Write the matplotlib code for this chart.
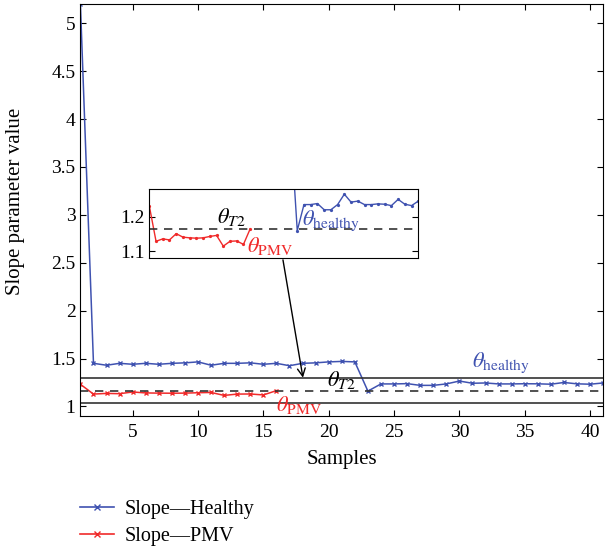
import numpy as np
import matplotlib
matplotlib.use('Agg')
import matplotlib.pyplot as plt
from matplotlib.lines import Line2D

plt.rcParams['font.family'] = 'Liberation Serif'
plt.rcParams['mathtext.fontset'] = 'stix'

# data
healthy_x = list(range(1, 42))
healthy_y = [5.2,
             1.45, 1.43, 1.45, 1.44, 1.45, 1.44, 1.45, 1.455, 1.465, 1.43,
             1.45, 1.45, 1.455, 1.44, 1.45, 1.425, 1.45,
             1.455, 1.465, 1.47, 1.465,
             1.16,
             1.235, 1.235, 1.238, 1.22, 1.22, 1.235, 1.265, 1.242, 1.245,
             1.235, 1.235, 1.237, 1.236, 1.232, 1.25, 1.236, 1.232, 1.245]
pmv_x = list(range(1, 17))
pmv_y = [1.231, 1.129, 1.136, 1.133, 1.151, 1.141, 1.139, 1.138,
         1.139, 1.143, 1.146, 1.115, 1.129, 1.130, 1.120, 1.165]
theta_healthy = 1.30
theta_t2 = 1.165
theta_pmv = 1.035

blue = '#3f52b0'
red = '#f02a2a'

fig = plt.figure(figsize=(6.05, 5.5), dpi=100)
ax = fig.add_axes([0.1329, 0.2436, 0.864, 0.749])

ax.plot(healthy_x, healthy_y, '-x', color=blue, lw=1.1, ms=3.5, mew=1.0)
ax.plot(pmv_x, pmv_y, '-x', color=red, lw=1.1, ms=3.5, mew=1.0)
ax.axhline(theta_healthy, color='#333333', lw=1.2)
ax.axhline(theta_pmv, color='#333333', lw=1.2)
ax.axhline(theta_t2, color='#333333', lw=1.2, ls=(0, (5, 4)))

ax.set_xlim(1, 41)
ax.set_ylim(0.9, 5.2)
ax.set_xticks([5, 10, 15, 20, 25, 30, 35, 40])
ax.set_yticks([1, 1.5, 2, 2.5, 3, 3.5, 4, 4.5, 5])
ax.set_yticklabels(['1', '1.5', '2', '2.5', '3', '3.5', '4', '4.5', '5'])
ax.tick_params(direction='in', top=True, right=True, labelsize=14, length=4)
ax.tick_params(axis='x', pad=6)
ax.set_xlabel('Samples', fontsize=15, labelpad=6)
ax.set_ylabel('Slope parameter value', fontsize=15)
ax.yaxis.set_label_coords(-0.106, 0.52)

ax.text(31.0, 1.33, r'$\theta_{\rm healthy}$', color=blue, fontsize=16, va='bottom')
ax.text(19.9, 1.165, r'$\theta_{T2}$', color='black', fontsize=16, va='bottom')
ax.text(16.0, 0.905, r'$\theta_{\rm PMV}$', color=red, fontsize=16, va='bottom')

ax.annotate('', xy=(18.03, theta_healthy), xytext=(16.5, 2.53),
            arrowprops=dict(arrowstyle='->', color='black', lw=1.0,
                            mutation_scale=14, shrinkA=0, shrinkB=0))

# inset zoom on the thresholds
ins = fig.add_axes([0.2468, 0.5304, 0.4446, 0.126])
ins.plot(healthy_x, healthy_y, '-o', color=blue, lw=1.0, ms=1.3)
ins.plot(pmv_x, pmv_y, '-o', color=red, lw=1.0, ms=1.3)
ins.axhline(theta_t2, color='#333333', lw=1.2, ls=(0, (5, 4)))
ins.set_xlim(1, 41)
ins.set_ylim(1.08, 1.28)
ins.set_xticks([])
ins.set_yticks([1.1, 1.2])
ins.set_yticklabels(['1.1', '1.2'])
ins.tick_params(direction='in', right=True, labelsize=14, length=4)
ins.text(11.1, 1.166, r'$\theta_{T2}$', color='black', fontsize=16, va='bottom')
ins.text(23.7, 1.152, r'$\theta_{\rm healthy}$', color=blue, fontsize=16, va='bottom')
ins.text(15.6, 1.085, r'$\theta_{\rm PMV}$', color=red, fontsize=16, va='bottom')

handles = [Line2D([], [], color=blue, marker='x', ms=4, lw=1.2),
           Line2D([], [], color=red, marker='x', ms=4, lw=1.2)]
fig.legend(handles, ['Slope\u2014Healthy', 'Slope\u2014PMV'],
           loc='upper left', bbox_to_anchor=(0.115, 0.11), frameon=False,
           fontsize=14.5, handlelength=1.7, handletextpad=0.55,
           labelspacing=0.42, borderpad=0)

fig.savefig('out.png', dpi=100)
